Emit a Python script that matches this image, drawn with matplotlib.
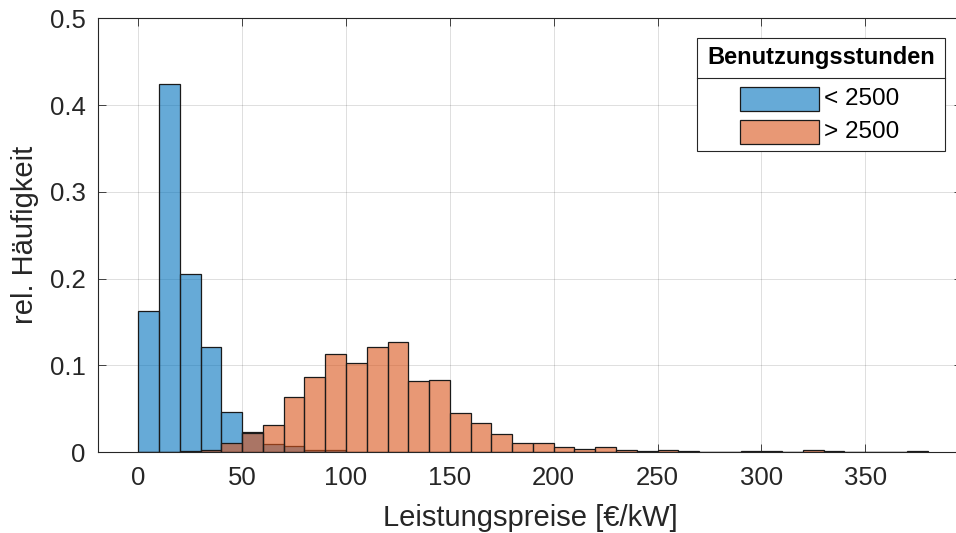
#!/usr/bin/env python
# -*- coding: utf-8 -*-

import numpy as np
import matplotlib
matplotlib.use('Agg')
import matplotlib.pyplot as plt
from matplotlib.patches import Rectangle
from matplotlib.lines import Line2D

###data###
bin_width = 10
bin_edges = np.arange(0, 380, bin_width)
share_low = [0.163, 0.424, 0.205, 0.121, 0.046, 0.023, 0.009, 0.0073, 0.002, 0.002,
             0, 0, 0, 0, 0, 0, 0, 0, 0, 0,
             0, 0, 0, 0, 0, 0, 0, 0, 0, 0,
             0, 0, 0, 0, 0, 0, 0, 0]
share_high = [0, 0, 0.001, 0.002, 0.0105, 0.0215, 0.031, 0.063, 0.087, 0.113,
              0.103, 0.121, 0.127, 0.082, 0.083, 0.045, 0.034, 0.021, 0.0103, 0.0103,
              0.0054, 0.0038, 0.0054, 0.002, 0.001, 0.0025, 0.0012, 0.0004, 0.0002, 0.0008,
              0.001, 0.0002, 0.0025, 0.0006, 0, 0.0003, 0.0002, 0.001]
legend_title = 'Benutzungsstunden'
legend_labels = ['< 2500', '> 2500']

###plot configuration###
plt.rcParams['font.family'] = ['Liberation Sans', 'DejaVu Sans']
plt.rcParams['xtick.direction'] = 'in'
plt.rcParams['ytick.direction'] = 'in'
plt.rcParams['axes.linewidth'] = 0.8

W, H = 956, 533
blue = (0.0, 0.447, 0.741, 0.6)
orange = (0.85, 0.325, 0.098, 0.6)
dark = '#262626'

fig = plt.figure(figsize=(W / 100, H / 100), dpi=100)
# axes runs past the right border like in the original export
ax = fig.add_axes([98.3 / W, (H - 452) / H, (962 - 98.3) / W, (452 - 18.3) / H])

ax.bar(bin_edges, share_low, width=bin_width, align='edge', color=blue,
       edgecolor='#1a1a1a', linewidth=0.9, zorder=2)
ax.bar(bin_edges, share_high, width=bin_width, align='edge', color=orange,
       edgecolor='#1a1a1a', linewidth=0.9, zorder=3)

ax.set_xlim(-19.26, -19.26 + (962 - 98.3) / 2.077)
ax.set_ylim(0, 0.5)
ax.set_xticks(np.arange(0, 351, 50))
ax.set_yticks([0, 0.1, 0.2, 0.3, 0.4, 0.5])
ax.set_yticklabels(['0', '0.1', '0.2', '0.3', '0.4', '0.5'])
ax.grid(True, color='black', alpha=0.15, linewidth=0.6, zorder=0)
ax.set_axisbelow(True)
ax.tick_params(axis='both', labelsize=18.5, colors=dark, length=6, width=0.6,
               top=True, right=True)
ax.tick_params(axis='x', pad=10)
ax.tick_params(axis='y', pad=9)
for s in ax.spines.values():
    s.set_color(dark)

ax.set_xlabel('Leistungspreise [€/kW]', fontsize=21, color=dark, labelpad=10)
ax.set_ylabel('rel. Häufigkeit', fontsize=21, color=dark, labelpad=8)

###legend, built by hand (title box with separator)###
def fx(px):
    return px / W

def fy(py):
    return 1 - py / H

lx0, lx1, ly0, ly1, lsep = 697.3, 945, 38, 151, 77.7
fig.add_artist(Rectangle((fx(lx0), fy(ly1)), fx(lx1) - fx(lx0), fy(ly0) - fy(ly1),
                         transform=fig.transFigure, facecolor='white',
                         edgecolor=dark, linewidth=0.8, zorder=5))
fig.add_artist(Line2D([fx(lx0), fx(lx1)], [fy(lsep), fy(lsep)],
                      transform=fig.transFigure, color=dark, linewidth=0.8, zorder=6))
fig.text(fx((lx0 + lx1) / 2), fy((ly0 + lsep) / 2), legend_title, ha='center',
         va='center', fontsize=17, fontweight='bold', color='black', zorder=7)
for i, (lab, col) in enumerate(zip(legend_labels, [blue, orange])):
    yc = 99 + i * 33
    fig.add_artist(Rectangle((fx(739.5), fy(yc + 12)), fx(819) - fx(739.5), fy(yc - 12) - fy(yc + 12),
                             transform=fig.transFigure, facecolor=col,
                             edgecolor='#1a1a1a', linewidth=0.9, zorder=7))
    fig.text(fx(824), fy(yc), lab, ha='left', va='center', fontsize=17.5,
             color='black', zorder=7)

plt.savefig('out.png', dpi=100)
